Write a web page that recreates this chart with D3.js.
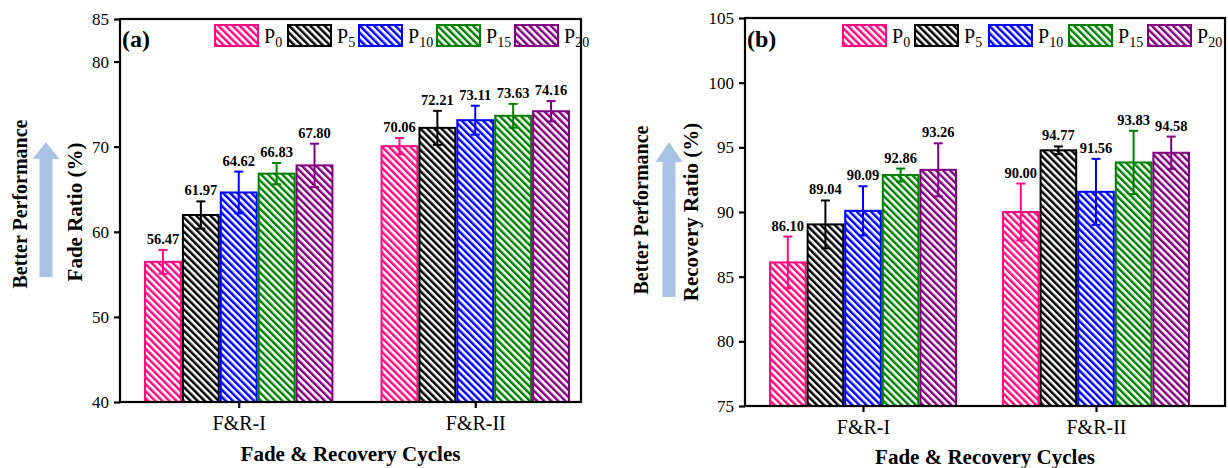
<!DOCTYPE html>
<html><head><meta charset="utf-8">
<script src="https://cdn.jsdelivr.net/npm/d3@7"></script>
<style>body{margin:0;background:#fff}svg{display:block}text{font-family:"Liberation Serif","Times New Roman",serif}</style>
</head><body>
<svg id="c" width="1228" height="468"></svg>
<script>
const categories = ["F&R-I", "F&R-II"];
const seriesNames = ["P0", "P5", "P10", "P15", "P20"];
const seriesSub = ["0", "5", "10", "15", "20"];
const colors = ["#ff0a80", "#000000", "#0000ff", "#008000", "#800080"];

const fadeValues = [[56.47, 61.97, 64.62, 66.83, 67.80], [70.06, 72.21, 73.11, 73.63, 74.16]];
const fadeErrors = [[1.4, 1.6, 2.45, 1.25, 2.55], [0.95, 2.0, 1.7, 1.4, 1.2]];
const recValues = [[86.10, 89.04, 90.09, 92.86, 93.26], [90.00, 94.77, 91.56, 93.83, 94.58]];
const recErrors = [[2.0, 1.85, 1.9, 0.5, 2.05], [2.2, 0.3, 2.55, 2.45, 1.25]];

const fadeTicks = [40, 50, 60, 70, 80, 85];
const recTicks = [75, 80, 85, 90, 95, 100, 105];

const svg = d3.select("#c");
const defs = svg.append("defs");
colors.forEach((c, i) => {
  const p = defs.append("pattern").attr("id", "h" + i).attr("patternUnits", "userSpaceOnUse")
    .attr("width", 5).attr("height", 5).attr("patternTransform", "rotate(-45)");
  p.append("rect").attr("width", 5).attr("height", 5).attr("fill", "#fff");
  p.append("rect").attr("x", 0).attr("y", 0).attr("width", 2.5).attr("height", 5).attr("fill", c);
});

function panel(cfg) {
  const g = svg.append("g");
  const y = d3.scaleLinear().domain(cfg.domain).range([cfg.bottom, cfg.top]);
  const x0 = d3.scaleBand().domain(categories).range(cfg.barRange).paddingInner(cfg.pi).paddingOuter(0);
  const x1 = d3.scaleBand().domain(seriesNames).range([0, x0.bandwidth()]);

  // bars
  categories.forEach((cat, ci) => {
    seriesNames.forEach((s, si) => {
      const v = cfg.values[ci][si], e = cfg.errors[ci][si];
      const bx = x0(cat) + x1(s), bw = x1.bandwidth();
      g.append("rect").attr("x", bx + 1).attr("y", y(v)).attr("width", bw - 2)
        .attr("height", y(cfg.domain[0]) - y(v))
        .attr("fill", `url(#h${si})`).attr("stroke", colors[si]).attr("stroke-width", 2);
      const cx = bx + bw / 2;
      g.append("line").attr("x1", cx).attr("x2", cx).attr("y1", y(v + e)).attr("y2", Math.min(y(v - e), cfg.bottom))
        .attr("stroke", colors[si]).attr("stroke-width", 2);
      [v + e, v - e].forEach(t => {
        if (y(t) < cfg.bottom) g.append("line").attr("x1", cx - 4.5).attr("x2", cx + 4.5).attr("y1", y(t)).attr("y2", y(t))
          .attr("stroke", colors[si]).attr("stroke-width", 2);
      });
      g.append("text").attr("x", cx).attr("y", y(v + e) - 6).attr("text-anchor", "middle")
        .attr("font-size", 14.5).attr("font-weight", "bold").text(v.toFixed(2));
    });
  });

  // frame
  g.append("rect").attr("x", cfg.left).attr("y", cfg.top).attr("width", cfg.right - cfg.left)
    .attr("height", cfg.bottom - cfg.top).attr("fill", "none").attr("stroke", "#000").attr("stroke-width", 2.2);

  // y axis
  const ya = d3.axisLeft(y).tickValues(cfg.ticks).tickSize(6).tickPadding(5).tickFormat(d3.format("d"));
  const yg = g.append("g").attr("transform", `translate(${cfg.left},0)`).call(ya);
  yg.select(".domain").remove();
  yg.selectAll("line").attr("stroke-width", 2.2);
  yg.selectAll("text").attr("font-size", 17).attr("font-family", "Liberation Serif").attr("fill", "#000");

  // x axis
  const xa = d3.axisBottom(d3.scalePoint().domain(categories).range([x0(categories[0]) + x0.bandwidth() / 2, x0(categories[1]) + x0.bandwidth() / 2]))
    .tickSize(6).tickPadding(8);
  const xg = g.append("g").attr("transform", `translate(0,${cfg.bottom})`).call(xa);
  xg.select(".domain").remove();
  xg.selectAll("line").attr("stroke-width", 2.2);
  xg.selectAll("text").attr("font-size", 20).attr("font-family", "Liberation Serif").attr("fill", "#000");

  // titles
  g.append("text").attr("x", (cfg.left + cfg.right) / 2).attr("y", cfg.bottom + cfg.xtDy).attr("text-anchor", "middle")
    .attr("font-size", 21).attr("font-weight", "bold").text("Fade & Recovery Cycles");
  g.append("text").attr("transform", `translate(${cfg.ytX},${cfg.ytY}) rotate(-90)`).attr("text-anchor", "middle")
    .attr("font-size", 21).attr("font-weight", "bold").text(cfg.ytitle);
  g.append("text").attr("transform", `translate(${cfg.bpX},${cfg.bpY}) rotate(-90)`).attr("text-anchor", "middle")
    .attr("font-size", 20).attr("font-weight", "bold").text("Better Performance");

  // arrow
  const a = cfg.arrow;
  g.append("path").attr("d", `M${a.cx - 6.5},${a.bottom} L${a.cx - 6.5},${a.headBase} L${a.cx - 13.5},${a.headBase} L${a.cx},${a.tip} L${a.cx + 13.5},${a.headBase} L${a.cx + 6.5},${a.headBase} L${a.cx + 6.5},${a.bottom} Z`)
    .attr("fill", "#a8c3e4");

  // panel letter
  g.append("text").attr("x", cfg.left + 2).attr("y", 47).attr("font-size", 24).attr("font-weight", "bold").text(cfg.letter);

  // legend
  seriesNames.forEach((s, i) => {
    const lx = cfg.legendX[i];
    g.append("rect").attr("x", lx + 1).attr("y", 25).attr("width", 43).attr("height", 21)
      .attr("fill", `url(#h${i})`).attr("stroke", colors[i]).attr("stroke-width", 2);
    const t = g.append("text").attr("x", lx + 50).attr("y", 43).attr("font-size", 20);
    t.append("tspan").text("P");
    t.append("tspan").attr("font-size", 14).attr("dy", 4).text(seriesSub[i]);
  });
}

panel({
  left: 120, right: 581, top: 19, bottom: 402, domain: [40, 85], ticks: fadeTicks,
  barRange: [144, 570], pi: 0.199, values: fadeValues, errors: fadeErrors,
  xtDy: 59, ytitle: "Fade Ratio (%)", ytX: 82, ytY: 212, bpX: 27, bpY: 204,
  arrow: { cx: 46, tip: 142, headBase: 159, bottom: 277 }, letter: "(a)",
  legendX: [214, 287, 358, 436, 514]
});
panel({
  left: 745, right: 1225, top: 18, bottom: 406, domain: [75, 105], ticks: recTicks,
  barRange: [769, 1190], pi: 0.193, values: recValues, errors: recErrors,
  xtDy: 58, ytitle: "Recovery Ratio (%)", ytX: 698, ytY: 212, bpX: 648, bpY: 210,
  arrow: { cx: 669, tip: 142, headBase: 162, bottom: 297 }, letter: "(b)",
  legendX: [842, 914, 988, 1068, 1147]
});
</script>
</body></html>
